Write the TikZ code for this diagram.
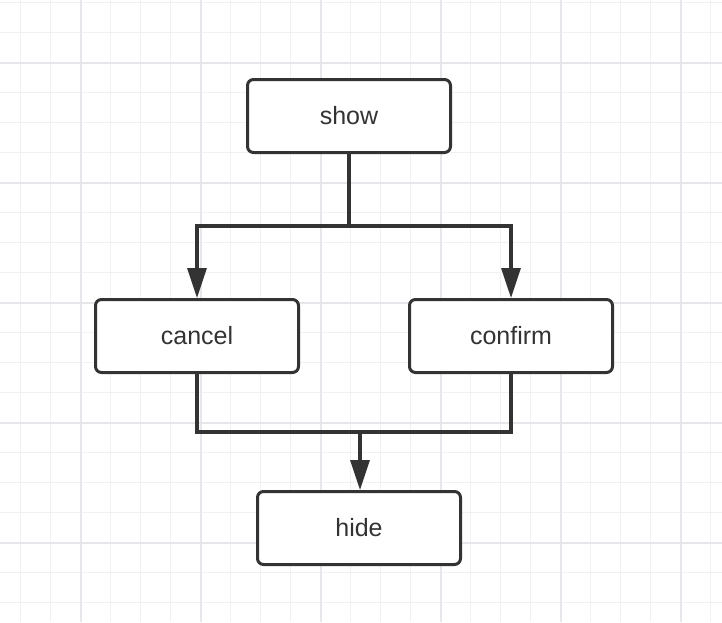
\documentclass[tikz,border=0pt]{standalone}
\usepackage{fontspec}
\setmainfont{Liberation Sans}
\usetikzlibrary{arrows.meta}
\usetikzlibrary{positioning}

\definecolor{linegray}{HTML}{333333}
\definecolor{gridminor}{HTML}{F1F1F3}
\definecolor{gridmajor}{HTML}{E7E7EB}

\tikzset{
    statebox/.style={draw=linegray, line width=3pt, rounded corners=6pt, fill=white,
        minimum width=203pt, minimum height=73pt, text=linegray, font=\fontsize{25}{29}\selectfont},
    flow/.style={draw=linegray, line width=3.2pt},
    flowarrow/.style={flow, -{Triangle[length=30pt,width=19pt]}}
}

\begin{document}
\begin{tikzpicture}[x=1pt,y=-1pt]
            \useasboundingbox (0,0) rectangle (722,622);
            \fill[white] (0,0) rectangle (722,622);
            % grid
            \foreach \gx in {20.7,50.7,...,720}
                \draw[gridminor, line width=1.5pt] (\gx,0) -- (\gx,622);
            \foreach \gy in {2.7,32.7,...,620}
                \draw[gridminor, line width=1.5pt] (0,\gy) -- (722,\gy);
            \foreach \gx in {80.7,200.7,...,720}
                \draw[gridmajor, line width=1.8pt] (\gx,0) -- (\gx,622);
            \foreach \gy in {62.7,182.7,...,620}
                \draw[gridmajor, line width=1.8pt] (0,\gy) -- (722,\gy);

            \node[statebox] (show) at (349,116){show};
            \node[statebox] (cancel) at (197,336){cancel};
            \node[statebox] (confirm) at (511,336){confirm};
            \node[statebox] (hide) at (359,528){hide};

            \coordinate (split) at (349,226);
            \coordinate (join) at (360,432);

            \draw[flow] (show) -- (split);
            \draw[flowarrow] (split) -| (cancel);
            \draw[flowarrow] (split) -| (confirm);
            \draw[flow] (cancel) |- (join);
            \draw[flow] (confirm) |- (join);
            \draw[flowarrow] (join) -- (join |- hide.north);
        \end{tikzpicture}
\end{document}
